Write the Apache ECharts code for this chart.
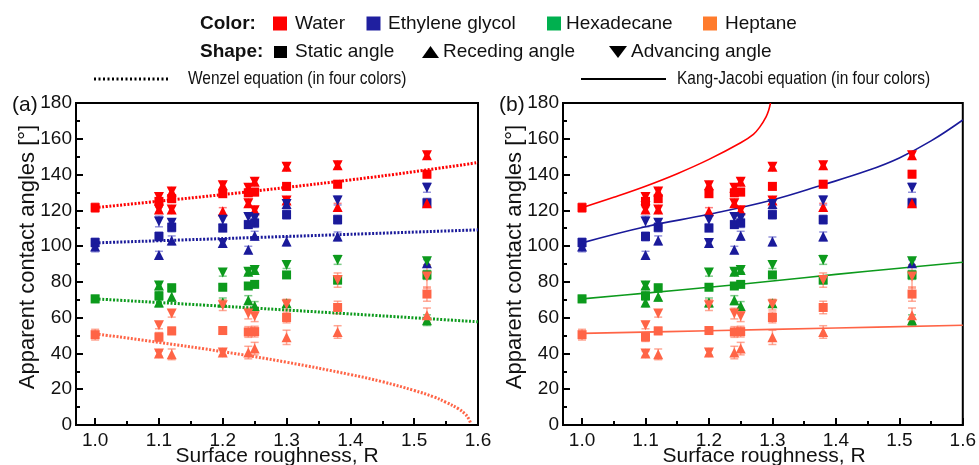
<!DOCTYPE html>
<html><head><meta charset="utf-8">
<script src="https://cdn.jsdelivr.net/npm/echarts@6/dist/echarts.min.js"></script>
<style>html,body{margin:0;padding:0;background:#fff}#c{width:979px;height:465px}</style>
</head><body><div id="c"></div>
<script>
// ---- axis ticks ----
const R_TICKS = [1.0, 1.1, 1.2, 1.3, 1.4, 1.5, 1.6];
const R_MINOR = [1.05, 1.15, 1.25, 1.35, 1.45, 1.55];
const Y_MIN = 0, Y_MAX = 180, Y_STEP = 20;
const R_MIN = 0.97, R_MAX = 1.6;

// ---- measured contact angles: [R, angle, error] ----
const water_static = [[1.0,121.5,2.5],[1.1,125,2],[1.12,126.5,2],[1.2,129.3,1.5],[1.24,129.8,2],[1.25,130.2,2],[1.3,133.4,2],[1.38,134.6,2],[1.52,140.2,2]];
const water_receding = [[1.2,119.5,2],[1.38,121.9,2],[1.52,124,2]];
const water_advancing = [];
const water_both = [[1.1,127.5,2],[1.1,120.4,1.5],[1.12,130.5,2],[1.12,120.4,2],[1.2,134,2],[1.24,132.6,2],[1.24,124,2],[1.25,136,2],[1.25,120,2],[1.3,144.4,2],[1.3,125.5,2],[1.38,145.2,2],[1.52,150.8,2]];

const eg_static = [[1.0,102,2.5],[1.1,105.4,2.5],[1.12,110.5,2.5],[1.2,110.1,2],[1.24,112,2],[1.25,112.9,2.5],[1.3,117.6,2.5],[1.38,114.8,2.5],[1.52,124.2,2.5]];
const eg_receding = [[1.0,99.8,3],[1.1,95.1,2],[1.12,103.2,2.5],[1.24,97.9,2],[1.25,105.8,2.5],[1.3,102.6,2.5],[1.38,105.4,2.5],[1.52,90.4,2]];
const eg_advancing = [[1.1,113.8,3],[1.12,113,2],[1.2,114.8,2.5],[1.24,116.3,2],[1.25,115.6,2.5],[1.38,125.5,2.5],[1.52,132.6,2.5]];
const eg_both = [[1.2,101.7,2],[1.3,123.5,2.5]];

const hex_static = [[1.0,70.5,2],[1.1,72.2,2.5],[1.12,76.7,2],[1.2,77,1.5],[1.24,77.7,1.5],[1.25,78.6,1.5],[1.3,83.9,1.5],[1.38,81,2],[1.52,83.9,2.5]];
const hex_receding = [[1.1,68.5,2.5],[1.12,71.7,2.5],[1.2,68.5,2.5],[1.24,69.8,2.5],[1.25,66.5,2.5],[1.3,68,2],[1.52,58.6,3]];
const hex_advancing = [[1.2,85.2,2],[1.3,89.5,2],[1.38,92.3,2.5],[1.52,91.5,2]];
const hex_both = [[1.1,78,2],[1.24,85.7,1.5],[1.25,86.7,1.5]];

const hep_static = [[1.0,50.5,3],[1.1,49.2,2.5],[1.12,52.6,2],[1.2,52.8,2],[1.24,52,3],[1.25,52.2,3],[1.3,60.1,3],[1.38,65.7,3.5],[1.52,73.2,4]];
const hep_receding = [[1.12,39.5,3],[1.24,40.5,3.5],[1.25,42.7,3.5],[1.3,49,4],[1.38,52,3.5],[1.52,61.4,4]];
const hep_advancing = [[1.1,55.8,2],[1.12,62.3,2],[1.2,67,3],[1.24,62.3,3],[1.25,60.8,3],[1.3,67.3,3],[1.38,81,4],[1.52,83,6.5]];
const hep_both = [[1.1,39.9,1.5],[1.2,40.5,1.5]];

// ---- model curves: [R, angle] ----
const wenzel_water = [[1.0,121.5],[1.1,125.1],[1.2,128.8],[1.3,132.8],[1.4,137.0],[1.5,141.6],[1.6,146.7]];
const wenzel_eg = [[1.0,101.8],[1.2,104.2],[1.4,106.6],[1.6,109.1]];
const wenzel_hex = [[1.0,70.5],[1.2,66.4],[1.4,62.1],[1.6,57.7]];
const wenzel_hep = [[1.0,51],[1.1,46.2],[1.2,41],[1.3,35.1],[1.4,28.2],[1.45,24.2],[1.5,19.3],[1.53,15.8],[1.55,12.7],[1.57,8.9],[1.58,6.1],[1.585,3.8],[1.589,0.6]];

const kj_water = [[1.0,121.5],[1.05,127.3],[1.1,133.5],[1.15,140.5],[1.2,148.5],[1.25,157.8],[1.27,162.5],[1.28,166.5],[1.29,172.3],[1.294,175.8],[1.297,180]];
const kj_eg = [[1.0,101.8],[1.1,110.8],[1.2,117.8],[1.3,125.8],[1.38,134.3],[1.45,142.2],[1.5,149.3],[1.55,158.8],[1.6,170.5]];
const kj_hex = [[1.0,70.5],[1.1,73.7],[1.2,77],[1.3,80.5],[1.4,84.2],[1.5,87.6],[1.6,91]];
const kj_hep = [[1.0,51.2],[1.2,52.7],[1.4,54.2],[1.6,55.8]];

// ---- labels ----
const liquidNames = ['Water', 'Ethylene glycol', 'Hexadecane', 'Heptane'];
const shapeNames = ['Static angle', 'Receding angle', 'Advancing angle'];
const yTitle = 'Apparent contact angles [°]';
const xTitle = 'Surface roughness, R';
const panelLabels = ['(a)', '(b)'];
const wenzelLabel = 'Wenzel equation (in four colors)';
const kjLabel = 'Kang-Jacobi equation (in four colors)';

const COL = ['#ff0000', '#1a1a9a', '#0c9a1c', '#ff6446'];
const COL_ERR = ['rgba(255,40,40,0.6)', 'rgba(60,60,190,0.55)', 'rgba(20,160,40,0.55)', 'rgba(255,110,80,0.6)'];
const LEG_COL = ['#ff0000', '#1f1f9f', '#00b04f', '#ff7b2c'];

const liquids = [
  {s: water_static, r: water_receding, a: water_advancing, b: water_both, w: wenzel_water, k: kj_water},
  {s: eg_static, r: eg_receding, a: eg_advancing, b: eg_both, w: wenzel_eg, k: kj_eg},
  {s: hex_static, r: hex_receding, a: hex_advancing, b: hex_both, w: wenzel_hex, k: kj_hex},
  {s: hep_static, r: hep_receding, a: hep_advancing, b: hep_both, w: wenzel_hep, k: kj_hep}
];

const FONT = 'Liberation Sans, Arial, sans-serif';

const GRID_LEFT = [76, 563];
const grids = GRID_LEFT.map(l => ({left: l, top: 103, width: 402, height: 322, show: true,
  borderColor: '#000', borderWidth: 2, backgroundColor: 'transparent', containLabel: false}));

const xAxes = [], yAxes = [];
[0, 1].forEach(g => {
  xAxes.push({type: 'value', gridIndex: g, min: R_MIN, max: R_MAX, position: 'bottom',
    axisLine: {show: true, onZero: false, lineStyle: {color: '#000', width: 2}},
    axisTick: {show: true, inside: true, length: 7, customValues: R_TICKS, lineStyle: {color: '#000', width: 2}},
    axisLabel: {show: true, customValues: R_TICKS, formatter: v => v.toFixed(1), margin: 6,
      fontSize: 19, fontFamily: FONT, color: '#111'},
    splitLine: {show: false}});
  xAxes.push({type: 'value', gridIndex: g, min: R_MIN, max: R_MAX, position: 'bottom',
    axisLine: {show: false},
    axisTick: {show: true, inside: true, length: 4, customValues: R_MINOR, lineStyle: {color: '#000', width: 2}},
    axisLabel: {show: false}, splitLine: {show: false}});
  yAxes.push({type: 'value', gridIndex: g, min: Y_MIN, max: Y_MAX, interval: Y_STEP,
    axisLine: {show: true, lineStyle: {color: '#000', width: 2}},
    axisTick: {show: true, inside: true, length: 7, lineStyle: {color: '#000', width: 2}},
    minorTick: {show: true, splitNumber: 2, length: 4, lineStyle: {color: '#000', width: 2}},
    axisLabel: {margin: 4, fontSize: 19, fontFamily: FONT, color: '#111'},
    splitLine: {show: false}});
});

function errSeries(pts, color, g) {
  return {type: 'custom', xAxisIndex: g * 2, yAxisIndex: g, z: 1, silent: true,
    data: pts, encode: {x: 0, y: 1},
    renderItem: (params, api) => {
      const x = api.value(0), y = api.value(1), e = api.value(2);
      const hi = api.coord([x, y + e]), lo = api.coord([x, y - e]);
      const w = 4;
      const st = {stroke: color, lineWidth: 1.5};
      return {type: 'group', children: [
        {type: 'line', shape: {x1: hi[0], y1: hi[1], x2: lo[0], y2: lo[1]}, style: st},
        {type: 'line', shape: {x1: hi[0] - w, y1: hi[1], x2: hi[0] + w, y2: hi[1]}, style: st},
        {type: 'line', shape: {x1: lo[0] - w, y1: lo[1], x2: lo[0] + w, y2: lo[1]}, style: st}
      ]};
    }};
}
function scat(pts, color, g, symbol, rot, size, z) {
  return {type: 'scatter', xAxisIndex: g * 2, yAxisIndex: g, data: pts.map(p => [p[0], p[1]]),
    symbol: symbol, symbolRotate: rot, symbolSize: size, z: z,
    itemStyle: {color: color, opacity: 1}, silent: true};
}

const series = [];
[0, 1].forEach(g => {
  liquids.forEach((L, i) => {
    const all = L.s.concat(L.r, L.a, L.b);
    series.push(errSeries(all, COL_ERR[i], g));
  });
  liquids.forEach((L, i) => {
    const curve = g === 0 ? L.w : L.k;
    series.push({type: 'line', xAxisIndex: g * 2, yAxisIndex: g, data: curve, smooth: 0.4,
      showSymbol: false, z: 2, silent: true,
      lineStyle: g === 0 ? {color: COL[i], width: 3, type: [2, 1.6]} : {color: COL[i], width: 1.6}});
  });
  liquids.forEach((L, i) => {
    series.push(scat(L.s, COL[i], g, 'rect', 0, 9, 3));
  });
  liquids.forEach((L, i) => {
    series.push(scat(L.r, COL[i], g, 'triangle', 0, 10, 4));
    series.push(scat(L.a, COL[i], g, 'triangle', 180, 10, 4));
    series.push(scat(L.b, COL[i], g, 'triangle', 0, 10, 4));
    series.push(scat(L.b, COL[i], g, 'triangle', 180, 10, 4));
  });
});

// ---- legend and titles as graphic text ----
const txt = (x, y, s, font, extra) => Object.assign({type: 'text', x: x, y: y, silent: true,
  style: {text: s, fill: '#111', font: font || ('19px ' + FONT), textVerticalAlign: 'middle'}}, extra || {});

const graphic = [];
graphic.push(txt(200, 23.5, 'Color:', 'bold 19px ' + FONT));
const boxX = [273, 366.5, 547, 703], nameX = [295, 388, 566, 725];
liquidNames.forEach((n, i) => {
  graphic.push({type: 'rect', shape: {x: boxX[i], y: 16.5, width: 14, height: 14}, style: {fill: LEG_COL[i]}, silent: true});
  graphic.push(txt(nameX[i], 23.5, n));
});
graphic.push(txt(200, 52, 'Shape:', 'bold 19px ' + FONT));
graphic.push({type: 'rect', shape: {x: 274, y: 46, width: 13, height: 12}, style: {fill: '#000'}, silent: true});
graphic.push(txt(295, 52, shapeNames[0]));
graphic.push({type: 'polygon', shape: {points: [[422, 58], [439, 58], [430.5, 46]]}, style: {fill: '#000'}, silent: true});
graphic.push(txt(443, 52, shapeNames[1]));
graphic.push({type: 'polygon', shape: {points: [[609, 46], [627, 46], [618, 58]]}, style: {fill: '#000'}, silent: true});
graphic.push(txt(631, 52, shapeNames[2]));
graphic.push({type: 'line', shape: {x1: 94, y1: 79, x2: 170, y2: 79}, style: {stroke: '#000', lineWidth: 3, lineDash: [2, 2.5]}, silent: true});
graphic.push(txt(188, 79, wenzelLabel, '19px ' + FONT, {scaleX: 0.815}));
graphic.push({type: 'line', shape: {x1: 581, y1: 79, x2: 666, y2: 79}, style: {stroke: '#000', lineWidth: 2}, silent: true});
graphic.push(txt(677, 79, kjLabel, '19px ' + FONT, {scaleX: 0.815}));

[0, 1].forEach(g => {
  const left = GRID_LEFT[g];
  graphic.push(txt(left - 64, 105, panelLabels[g], '21px ' + FONT));
  graphic.push({type: 'text', x: left - 48, y: 257, rotation: Math.PI / 2, silent: true,
    style: {text: yTitle, fill: '#111', font: '22px ' + FONT, textAlign: 'center', textVerticalAlign: 'middle'}});
  graphic.push({type: 'text', x: left + 201, y: 456, silent: true,
    style: {text: xTitle, fill: '#111', font: '21px ' + FONT, textAlign: 'center', textVerticalAlign: 'middle'}});
});

const chart = echarts.init(document.getElementById('c'), null, {renderer: 'canvas'});
chart.setOption({animation: false, backgroundColor: '#fff', grid: grids, xAxis: xAxes, yAxis: yAxes,
  series: series, graphic: graphic});
</script></body></html>
